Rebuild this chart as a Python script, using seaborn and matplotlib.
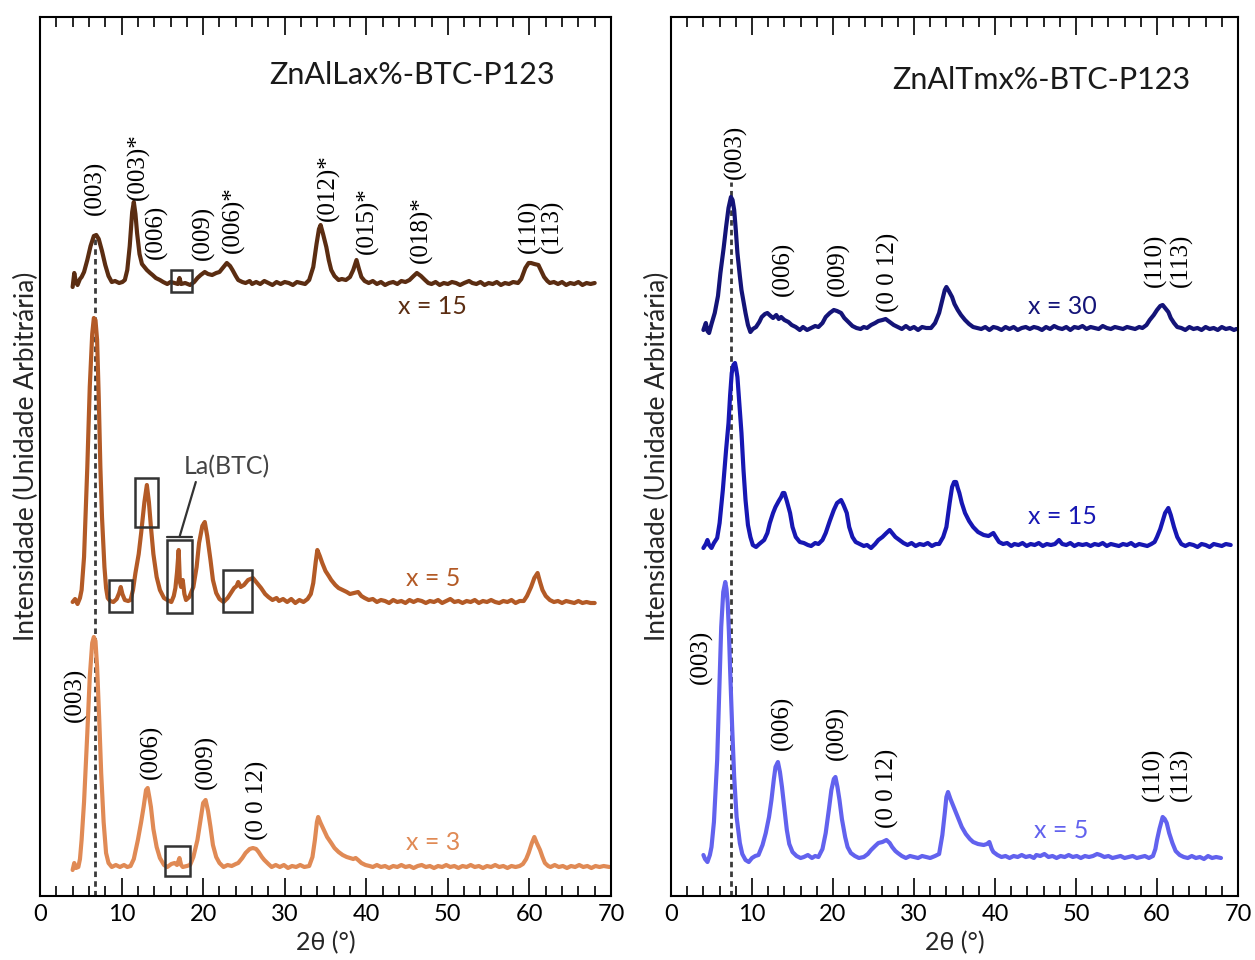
import numpy as np
import matplotlib
matplotlib.use("Agg")
import matplotlib.pyplot as plt
from matplotlib.patches import Rectangle
from matplotlib.ticker import MultipleLocator
import seaborn as sns

# ---------------- diffractograms: (2theta in degrees, intensity in a.u. above baseline) ----------------
# ZnAlLa x% - BTC - P123, x = 15
la15 = [(4.0, -3), (4.2, 11), (4.4, 2), (4.6, -1), (4.9, 5), (5.1, 7), (5.4, 12), (5.8, 24), (6.2, 38),
        (6.6, 48), (6.9, 49), (7.2, 45), (7.6, 33), (8.0, 19), (8.4, 8), (8.8, 2), (9.2, 3), (9.7, 1),
        (10.1, 2), (10.4, 4), (10.7, 14), (11.0, 38), (11.3, 72), (11.5, 82), (11.7, 70), (11.9, 51),
        (12.2, 30), (12.5, 20), (12.8, 17), (13.1, 14), (13.5, 11), (13.8, 9), (14.2, 6), (14.7, 4),
        (15.1, 2), (15.6, 0), (16.0, 2), (16.5, 1), (16.9, 0), (17.1, 6), (17.3, 0), (17.8, 1), (18.4, -1),
        (18.9, 2), (19.3, 6), (19.7, 9), (20.2, 12), (20.6, 10), (21.1, 9), (21.6, 11), (22.0, 12),
        (22.5, 17), (22.9, 21), (23.3, 18), (23.6, 14), (24.0, 8), (24.3, 4), (24.8, 2), (25.2, 1),
        (25.7, 3), (26.0, 0), (26.5, 2), (27.0, 0), (27.5, 3), (28.0, 1), (28.5, -1), (29.0, 2), (29.5, 0),
        (30.0, 2), (30.5, 1), (31.0, -1), (31.5, 2), (32.0, 1), (32.5, 0), (33.0, 4), (33.5, 17),
        (33.9, 40), (34.2, 55), (34.4, 59), (34.7, 50), (35.1, 37), (35.4, 24), (35.7, 14), (36.1, 8),
        (36.6, 4), (37.0, 5), (37.5, 4), (38.0, 7), (38.4, 14), (38.8, 24), (39.1, 15), (39.4, 7),
        (39.8, 3), (40.3, 1), (40.8, 3), (41.3, 0), (41.8, 2), (42.3, -1), (42.8, 1), (43.3, 2), (43.8, 0),
        (44.3, 3), (44.8, 2), (45.3, 4), (45.8, 8), (46.2, 11), (46.7, 8), (47.2, 4), (47.6, 1), (48.0, 0),
        (48.5, 2), (49.0, -1), (49.5, 1), (50.0, 0), (50.5, 2), (51.0, 1), (51.5, -1), (52.0, 1),
        (52.6, 3), (53.0, 1), (53.5, 0), (54.0, 2), (54.5, -1), (55.0, 1), (55.5, 0), (56.0, 2),
        (56.5, -1), (57.0, 1), (57.5, 0), (58.0, 2), (58.6, 1), (59.0, 5), (59.5, 16), (59.9, 21),
        (60.2, 21), (60.6, 20), (61.1, 19), (61.5, 12), (61.8, 7), (62.2, 3), (62.5, 1), (63.0, 2),
        (63.5, 0), (64.0, 2), (64.5, -1), (65.0, 1), (65.5, 0), (66.0, 2), (66.5, -1), (67.0, 1),
        (67.5, 0), (68.0, 1)]

# x = 5
la5 = [(4.0, 0), (4.3, 3), (4.6, -2), (4.9, 4), (5.1, 12), (5.4, 45), (5.8, 135), (6.1, 215), (6.4, 268),
       (6.6, 284), (6.8, 282), (7.0, 262), (7.2, 205), (7.4, 135), (7.6, 85), (7.9, 35), (8.1, 14),
       (8.3, 4), (8.6, 1), (9.0, 0), (9.4, 3), (9.7, 9), (9.9, 15), (10.1, 8), (10.4, 2), (10.8, 1),
       (11.1, 2), (11.4, 12), (11.7, 29), (12.1, 48), (12.4, 69), (12.8, 100), (13.1, 117), (13.35, 100),
       (13.6, 75), (13.9, 48), (14.3, 25), (14.7, 12), (15.2, 4), (15.6, 2), (16.1, 0), (16.4, 6),
       (16.6, 14), (16.8, 30), (17.0, 52), (17.15, 20), (17.3, 15), (17.5, 22), (17.7, 8), (17.9, 2),
       (18.3, 5), (18.8, 15), (19.2, 35), (19.5, 59), (19.9, 76), (20.2, 80), (20.5, 66), (20.9, 42),
       (21.2, 22), (21.6, 9), (22.0, 3), (22.5, 0), (23.0, 4), (23.4, 9), (23.8, 14), (24.1, 16),
       (24.3, 20), (24.6, 15), (25.0, 17), (25.5, 22), (26.1, 24), (26.6, 19), (27.1, 14), (27.6, 8),
       (28.0, 5), (28.5, 2), (29.0, 4), (29.3, 1), (29.8, 3), (30.3, 0), (30.8, 3), (31.3, -1), (31.8, 2),
       (32.3, 0), (32.8, 3), (33.2, 8), (33.5, 19), (33.8, 40), (34.0, 52), (34.3, 46), (34.6, 39),
       (35.0, 31), (35.4, 26), (35.7, 22), (36.2, 17), (36.6, 14), (37.1, 12), (37.6, 10), (38.0, 8),
       (38.5, 9), (39.0, 10), (39.4, 6), (39.8, 4), (40.3, 2), (40.8, 3), (41.3, 0), (41.8, 2), (42.3, 1),
       (42.8, -1), (43.3, 2), (43.8, 0), (44.3, 1), (44.8, -1), (45.3, 2), (45.8, 0), (46.3, 2), (46.8, 1),
       (47.3, -1), (47.8, 1), (48.3, 0), (48.8, 2), (49.3, -1), (49.8, 1), (50.3, 3), (50.8, 0), (51.3, 1),
       (51.8, -1), (52.3, 1), (52.8, 0), (53.3, 2), (53.8, -1), (54.3, 1), (54.8, 0), (55.3, 2), (55.8, 0),
       (56.3, -1), (56.8, 1), (57.3, 0), (57.8, 2), (58.3, -1), (58.8, 1), (59.3, 1), (59.7, 6),
       (60.2, 15), (60.6, 24), (61.0, 29), (61.3, 20), (61.6, 12), (62.0, 6), (62.5, 2), (63.0, 0),
       (63.5, 1), (64.0, -1), (64.5, 1), (65.0, 0), (65.5, -1), (66.0, 1), (66.5, -1), (67.0, 0),
       (67.5, -1), (68.0, -1)]

# x = 3
la3 = [(4.0, -3), (4.2, 4), (4.4, -1), (4.7, 0), (4.9, 8), (5.1, 27), (5.4, 65), (5.8, 134), (6.1, 190),
       (6.4, 224), (6.6, 230), (6.8, 226), (7.0, 200), (7.25, 150), (7.5, 94), (7.8, 45), (8.1, 14),
       (8.4, 4), (8.8, 0), (9.3, 2), (9.8, 0), (10.3, 2), (10.7, 0), (11.1, 1), (11.5, 8), (12.0, 27),
       (12.4, 45), (12.7, 60), (13.0, 77), (13.2, 79), (13.4, 70), (13.6, 60), (13.9, 38), (14.3, 20),
       (14.7, 9), (15.2, 2), (15.6, 0), (16.1, 3), (16.5, 4), (16.8, 2), (17.1, 9), (17.3, 2), (17.5, 0),
       (18.0, 1), (18.4, 2), (18.8, 10), (19.3, 27), (19.7, 48), (20.0, 64), (20.3, 67), (20.6, 56),
       (20.9, 40), (21.2, 22), (21.6, 10), (22.0, 4), (22.5, 0), (23.0, 2), (23.5, 1), (24.0, 3),
       (24.3, 4), (24.8, 9), (25.2, 14), (25.7, 18), (26.1, 19), (26.5, 18), (26.8, 15), (27.2, 10),
       (27.5, 7), (28.0, 3), (28.4, 0), (28.9, 2), (29.4, 0), (29.9, 2), (30.4, -1), (30.9, 1), (31.4, 0),
       (31.9, 2), (32.4, 0), (33.0, 1), (33.4, 10), (33.7, 27), (33.95, 45), (34.1, 50), (34.4, 44),
       (34.8, 37), (35.2, 30), (35.7, 24), (36.1, 19), (36.6, 15), (37.1, 12), (37.6, 10), (38.0, 9),
       (38.4, 8), (38.7, 9), (39.0, 7), (39.4, 4), (39.9, 2), (40.4, 1), (40.8, 0), (41.3, 2), (41.8, 0),
       (42.3, 1), (42.8, -1), (43.3, 1), (43.8, 0), (44.3, 2), (44.8, 0), (45.3, 1), (45.8, -1), (46.3, 1),
       (46.8, 2), (47.3, 0), (47.8, 1), (48.3, -1), (48.8, 1), (49.3, 0), (49.8, 2), (50.3, 0), (50.8, 1),
       (51.3, -1), (51.8, 1), (52.3, 0), (52.8, 2), (53.3, 0), (53.8, 1), (54.3, -1), (54.8, 1), (55.3, 0),
       (55.8, 2), (56.3, 0), (56.8, 1), (57.3, -1), (57.8, 1), (58.3, 0), (58.8, 1), (59.2, 3), (59.6, 8),
       (59.9, 14), (60.3, 24), (60.6, 30), (60.9, 24), (61.3, 17), (61.6, 10), (61.9, 4), (62.3, 1),
       (62.6, 0), (63.1, 2), (63.6, 0), (64.1, 1), (64.6, -1), (65.1, 1), (65.6, 0), (66.1, 2), (66.6, 0),
       (67.1, 1), (67.6, -1), (68.1, 1), (68.6, 0), (69.1, 1), (69.8, 0)]

# ZnAlTm x% - BTC - P123, x = 30
tm30 = [(4.0, -2), (4.3, 5), (4.5, -3), (4.7, -5), (5.0, 4), (5.4, 15), (5.8, 32), (6.1, 55), (6.5, 80),
        (6.8, 101), (7.1, 120), (7.4, 131), (7.6, 128), (7.8, 118), (8.0, 98), (8.2, 75), (8.5, 52),
        (8.7, 38), (9.0, 24), (9.2, 15), (9.5, 3), (9.8, -4), (10.1, -1), (10.5, 1), (10.9, 6), (11.2, 11),
        (11.6, 14), (11.9, 15), (12.3, 12), (12.6, 10), (13.0, 13), (13.3, 9), (13.6, 11), (14.0, 8),
        (14.5, 6), (14.9, 3), (15.4, 1), (15.9, -2), (16.3, 1), (16.8, -2), (17.3, 0), (17.8, 2), (18.2, 1),
        (18.7, 5), (19.1, 11), (19.6, 15), (20.1, 18), (20.5, 17), (21.0, 15), (21.4, 10), (21.9, 6),
        (22.4, 2), (22.9, 0), (23.4, -1), (23.8, 1), (24.2, 0), (24.7, 3), (25.2, 5), (25.6, 7), (26.1, 8),
        (26.5, 9), (27.0, 6), (27.5, 3), (28.0, 1), (28.5, -1), (29.0, 2), (29.5, -1), (30.0, 1),
        (30.5, -2), (31.0, 1), (31.5, 0), (32.1, 0), (32.6, 5), (33.1, 15), (33.5, 28), (33.8, 38),
        (34.0, 41), (34.3, 37), (34.7, 31), (35.0, 24), (35.4, 18), (35.8, 13), (36.3, 8), (36.8, 4),
        (37.3, 1), (37.8, 0), (38.3, -1), (38.8, 1), (39.3, -2), (39.8, 1), (40.3, 0), (40.8, -2), (41.3, 1),
        (41.8, -1), (42.3, 1), (42.8, -2), (43.3, 0), (43.8, 1), (44.3, -1), (44.8, 1), (45.3, 0),
        (45.8, -2), (46.3, 1), (46.8, -1), (47.3, 2), (47.8, 0), (48.3, -1), (48.8, 1), (49.3, -2),
        (49.8, 1), (50.3, 0), (50.8, 2), (51.3, -1), (51.8, 1), (52.3, 0), (52.8, -1), (53.3, 2), (53.8, 0),
        (54.3, -1), (54.8, 1), (55.3, 0), (55.8, -1), (56.3, 1), (56.8, 0), (57.3, -1), (57.8, 1), (58.2, 0),
        (58.7, 3), (59.1, 8), (59.6, 13), (60.0, 18), (60.4, 22), (60.7, 23), (61.0, 20), (61.4, 16),
        (61.7, 10), (62.1, 5), (62.5, 1), (63.0, 0), (63.5, -2), (64.0, 1), (64.5, -1), (65.0, 0),
        (65.5, -2), (66.0, 1), (66.5, -1), (67.0, 0), (67.5, -2), (68.0, 1), (68.5, -1), (69.0, 0),
        (69.5, -2), (69.8, -1)]

# x = 15
tm15 = [(4.0, -3), (4.3, 1), (4.5, 5), (4.7, 0), (5.0, -3), (5.3, 2), (5.7, 7), (6.0, 22), (6.4, 55),
        (6.8, 95), (7.1, 122), (7.3, 150), (7.5, 172), (7.7, 180), (7.9, 182), (8.05, 176), (8.2, 168),
        (8.45, 140), (8.7, 112), (8.95, 75), (9.2, 45), (9.5, 20), (9.8, 8), (10.1, 0), (10.5, -2),
        (10.9, 1), (11.2, 3), (11.5, 5), (11.9, 12), (12.2, 22), (12.6, 32), (12.9, 38), (13.3, 44),
        (13.6, 48), (13.8, 52), (14.0, 52), (14.3, 44), (14.7, 32), (15.0, 18), (15.4, 8), (15.9, 3),
        (16.4, 2), (16.9, 0), (17.3, -1), (17.8, 2), (18.2, 1), (18.7, 5), (19.1, 12), (19.6, 24),
        (20.1, 35), (20.5, 42), (21.0, 45), (21.3, 40), (21.7, 32), (22.0, 18), (22.4, 8), (22.8, 3),
        (23.3, 1), (23.8, -1), (24.2, 0), (24.7, -3), (25.2, 1), (25.6, 5), (26.1, 8), (26.6, 12),
        (27.0, 15), (27.3, 12), (27.7, 8), (28.2, 5), (28.7, 2), (29.2, 0), (29.7, 2), (30.2, -1),
        (30.7, 1), (31.2, 0), (31.7, 2), (32.2, -1), (32.7, 1), (33.1, 1), (33.6, 8), (34.0, 18),
        (34.4, 42), (34.7, 58), (34.95, 63), (35.2, 63), (35.4, 57), (35.6, 52), (35.9, 42), (36.3, 32),
        (36.8, 24), (37.3, 18), (37.9, 13), (38.6, 10), (39.2, 9), (39.8, 12), (40.1, 8), (40.5, 3),
        (41.0, 1), (41.5, 2), (42.0, -1), (42.4, 1), (42.9, 0), (43.4, 2), (43.9, -1), (44.4, 1), (44.9, 0),
        (45.4, 2), (45.9, -1), (46.4, 1), (46.9, 0), (47.4, 1), (47.9, 5), (48.3, 1), (48.8, 0), (49.3, 2),
        (49.8, -1), (50.3, 1), (50.8, 0), (51.3, 1), (51.8, -1), (52.3, 1), (52.8, 0), (53.3, 2),
        (53.8, -1), (54.3, 1), (54.8, 0), (55.3, -1), (55.8, 1), (56.3, 0), (56.8, 2), (57.3, -1),
        (57.8, 1), (58.3, 0), (58.8, -1), (59.3, 1), (59.7, 3), (60.0, 8), (60.4, 16), (60.7, 24),
        (61.0, 32), (61.4, 37), (61.7, 30), (62.1, 18), (62.5, 8), (63.0, 1), (63.5, -1), (64.0, 1),
        (64.5, 0), (65.0, -2), (65.5, 1), (66.0, 0), (66.5, -2), (67.0, 1), (67.5, 0), (68.0, -1),
        (68.5, 1), (69.1, 0)]

# x = 5
tm5 = [(4.0, 2), (4.2, -2), (4.5, -5), (4.8, 2), (5.0, 10), (5.3, 35), (5.7, 97), (6.0, 175), (6.2, 230),
       (6.45, 265), (6.7, 275), (6.85, 268), (7.0, 254), (7.15, 225), (7.3, 187), (7.55, 130), (7.8, 80),
       (8.1, 40), (8.5, 14), (8.8, 3), (9.2, -3), (9.6, -5), (10.0, -1), (10.4, 1), (10.8, 2), (11.3, 12),
       (11.7, 24), (12.1, 40), (12.4, 57), (12.7, 78), (12.9, 90), (13.2, 95), (13.45, 85), (13.7, 70),
       (14.0, 48), (14.3, 27), (14.6, 13), (15.0, 5), (15.5, 1), (16.0, -1), (16.4, 0), (16.9, 2),
       (17.4, -1), (17.8, 1), (18.2, 0), (18.7, 8), (19.1, 24), (19.5, 48), (19.8, 67), (20.1, 78),
       (20.3, 80), (20.55, 70), (20.8, 57), (21.1, 38), (21.5, 20), (21.8, 10), (22.2, 4), (22.7, 1),
       (23.2, -1), (23.8, 0), (24.3, 3), (24.7, 7), (25.2, 11), (25.6, 14), (26.1, 15), (26.6, 17),
       (27.0, 14), (27.3, 10), (27.7, 6), (28.0, 4), (28.5, 1), (29.0, -1), (29.5, 1), (30.0, 0),
       (30.5, -1), (31.0, 1), (31.5, 0), (32.0, -1), (32.6, 1), (33.1, 3), (33.5, 22), (33.8, 44),
       (34.0, 60), (34.2, 65), (34.5, 58), (34.9, 50), (35.4, 40), (35.9, 30), (36.4, 23), (36.9, 18),
       (37.3, 15), (37.9, 13), (38.6, 12), (39.0, 13), (39.3, 15), (39.6, 8), (39.8, 5), (40.3, 2),
       (40.8, 0), (41.3, 1), (41.8, -1), (42.3, 1), (42.8, 0), (43.3, 2), (43.8, 0), (44.3, 1), (44.8, -1),
       (45.1, 2), (45.6, 1), (46.1, 3), (46.6, 0), (47.1, 1), (47.6, -1), (48.1, 1), (48.6, 0), (49.1, 2),
       (49.6, 0), (50.1, 1), (50.6, -1), (51.1, 1), (51.6, 0), (52.1, 1), (52.6, 3), (53.0, 2), (53.5, 0),
       (54.0, 1), (54.5, -1), (55.0, 0), (55.5, 1), (56.0, -1), (56.5, 0), (57.0, 1), (57.5, -1), (58.0, 0),
       (58.5, 1), (59.0, -1), (59.5, 1), (59.8, 8), (60.0, 17), (60.3, 28), (60.7, 40), (60.95, 38),
       (61.2, 34), (61.5, 24), (61.9, 14), (62.3, 6), (62.8, 2), (63.3, 0), (63.8, -1), (64.3, 1),
       (64.8, -1), (65.3, 0), (65.8, -2), (66.3, 1), (66.8, -1), (67.3, 0), (67.9, -1)]

# ---------------- styling ----------------
sns.set_theme(style="ticks")
plt.rcParams["font.family"] = ["Lato", "DejaVu Sans"]

label_font = ["Liberation Serif", "DejaVu Serif"]
dash_color = "#3a3a3a"

fig = plt.figure(figsize=(12.55, 9.6), dpi=100)
ax1 = fig.add_axes([40 / 1255, 1 - 896 / 960, 571 / 1255, 879 / 960])
ax2 = fig.add_axes([671 / 1255, 1 - 896 / 960, 567 / 1255, 879 / 960])

# (pattern, vertical offset, colour)
left_series = [(la15, 612, "#5b2d12"), (la5, 294, "#b35a26"), (la3, 29, "#e08a55")]
right_series = [(tm30, 568, "#141478"), (tm15, 351, "#1717b3"), (tm5, 39, "#6262ee")]

for ax, series in ((ax1, left_series), (ax2, right_series)):
    for pattern, offset, color in series:
        tt, inten = map(np.array, zip(*pattern))
        sns.lineplot(x=tt, y=inten + offset, ax=ax, color=color, lw=3.0,
                     estimator=None, sort=False, legend=False)
    ax.set_xlim(0, 70)
    ax.set_ylim(0, 879)
    ax.set_yticks([])
    ax.set_xticks(range(0, 71, 10))
    ax.xaxis.set_minor_locator(MultipleLocator(2))
    ax.tick_params(axis="x", which="both", direction="in", top=True, bottom=True,
                   colors="black", labelsize=17, width=1.2)
    ax.tick_params(axis="x", which="major", length=13, pad=6)
    ax.tick_params(axis="x", which="minor", length=7)
    for sp in ax.spines.values():
        sp.set_visible(True)
        sp.set_color("black")
        sp.set_linewidth(1.5)
    ax.set_xlabel("2θ (°)", fontsize=18, labelpad=4)
    ax.set_ylabel("Intensidade (Unidade Arbitrária)", fontsize=19, labelpad=1)


def hkl(ax, x, y, s):
    ax.text(x, y, s, rotation=90, ha="center", va="center", fontsize=18,
            family=label_font, color="black")


# ---------------- left panel annotations ----------------
ax1.plot([6.75, 6.75], [0, 658], ls=(0, (2.0, 1.5)), color=dash_color, lw=2.0, zorder=1)
ax1.text(45.6, 821, "ZnAlLax%-BTC-P123", ha="center", va="center", fontsize=22, color="#1a1a1a")

for x, y, s in [(6.8, 708, "(003)"), (12.0, 729, "(003)*"), (14.3, 664, "(006)"),
                (20.0, 663, "(009)"), (23.7, 676, "(006)*"), (35.3, 708, "(012)*"),
                (40.1, 675, "(015)*"), (46.8, 666, "(018)*"), (60.0, 670, "(110)"),
                (62.8, 670, "(113)"),
                (4.3, 201, "(003)"), (13.6, 144, "(006)"), (20.4, 134, "(009)"),
                (26.6, 96, "(0 0 12)")]:
    hkl(ax1, x, y, s)

for x, y, s, c in [(48.1, 589, "x = 15", "#5b2d12"), (48.2, 318, "x = 5", "#b35a26"),
                   (48.2, 53, "x = 3", "#e08a55")]:
    ax1.text(x, y, s, ha="center", va="center", fontsize=18, color=c)

for x0, x1, y0, y1 in [(16.0, 18.6, 604, 626), (11.7, 14.5, 369, 418), (8.5, 11.3, 284, 316),
                       (15.6, 18.6, 283, 356), (22.4, 26.0, 284, 326), (15.3, 18.4, 20, 50)]:
    ax1.add_patch(Rectangle((x0, y0), x1 - x0, y1 - y0, fill=False, ec="#333333", lw=1.8, zorder=3))

ax1.text(22.9, 429, "La(BTC)", ha="center", va="center", fontsize=18, color="#444444")
ax1.plot([19.1, 17.1], [414, 359], color="#333333", lw=1.6)
ax1.plot([15.6, 18.6], [359, 359], color="#333333", lw=1.6)

# ---------------- right panel annotations ----------------
ax2.plot([7.4, 7.4], [0, 714], ls=(0, (2.0, 1.5)), color=dash_color, lw=2.0, zorder=1)
ax2.text(45.7, 816, "ZnAlTmx%-BTC-P123", ha="center", va="center", fontsize=22, color="#1a1a1a")

for x, y, s in [(8.0, 744, "(003)"), (13.9, 627, "(006)"), (20.6, 627, "(009)"),
                (26.9, 624, "(0 0 12)"), (59.8, 636, "(110)"), (63.0, 636, "(113)"),
                (3.7, 239, "(003)"), (13.7, 173, "(006)"), (20.5, 163, "(009)"),
                (26.7, 108, "(0 0 12)"), (59.6, 122, "(110)"), (63.0, 122, "(113)")]:
    hkl(ax2, x, y, s)

for x, y, s, c in [(48.3, 590, "x = 30", "#141478"), (48.3, 379, "x = 15", "#1717b3"),
                   (48.2, 66, "x = 5", "#6262ee")]:
    ax2.text(x, y, s, ha="center", va="center", fontsize=18, color=c)

fig.savefig("out.png", dpi=100)
